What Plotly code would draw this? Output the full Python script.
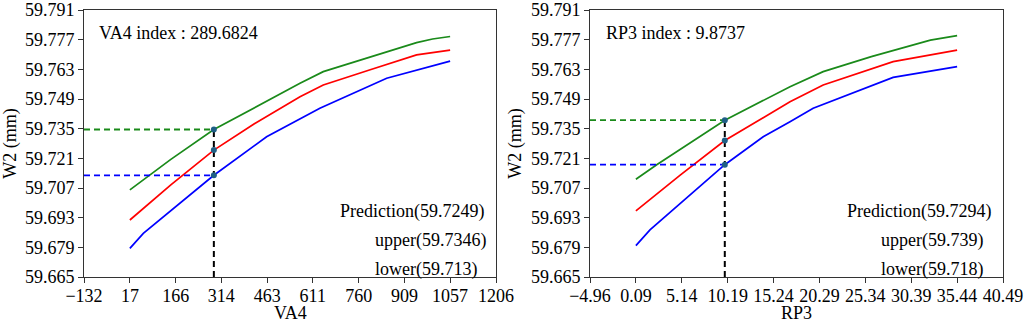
import plotly.graph_objects as go

# ---------------- data ----------------
# Left panel: VA4
va4_green_x = [17, 150, 289.68, 420, 569.5, 645, 800, 948, 1000, 1057]
va4_green_y = [59.7061, 59.7205, 59.7346, 59.7448, 59.7564, 59.7619, 59.7690, 59.7756, 59.7773, 59.7785]
va4_red_x = [17, 150, 289.68, 420, 569.5, 645, 800, 948, 1057]
va4_red_y = [59.6919, 59.7085, 59.7249, 59.7372, 59.7501, 59.7556, 59.7629, 59.7698, 59.7721]
va4_blue_x = [17, 60.6, 289.68, 461, 634, 851, 1057]
va4_blue_y = [59.6785, 59.6856, 59.7130, 59.7312, 59.7446, 59.7588, 59.7669]
va4_index = 289.6824
va4_pred, va4_upper, va4_lower = 59.7249, 59.7346, 59.713
va4_ticks = [-132, 17, 166, 314, 463, 611, 760, 909, 1057, 1206]

# Right panel: RP3
rp3_green_x = [0.09, 2.38, 9.8737, 17.05, 20.7, 26.0, 32.5, 35.44]
rp3_green_y = [59.7111, 59.7180, 59.7390, 59.7548, 59.7619, 59.7690, 59.7768, 59.7789]
rp3_red_x = [0.09, 5.0, 9.8737, 17.05, 20.7, 28.4, 35.44]
rp3_red_y = [59.6962, 59.7132, 59.7294, 59.7477, 59.7556, 59.7666, 59.7721]
rp3_blue_x = [0.09, 1.64, 9.8737, 14.1, 17.05, 19.6, 28.4, 35.44]
rp3_blue_y = [59.6798, 59.6872, 59.7180, 59.7312, 59.7383, 59.7446, 59.7592, 59.7643]
rp3_index = 9.8737
rp3_pred, rp3_upper, rp3_lower = 59.7294, 59.739, 59.718
rp3_ticks = [-4.96, 0.09, 5.14, 10.19, 15.24, 20.29, 25.34, 30.39, 35.44, 40.49]

y_ticks = [59.665, 59.679, 59.693, 59.707, 59.721, 59.735, 59.749, 59.763, 59.777, 59.791]

# ---------------- figure ----------------
W, H = 1024, 324
FONT = "'Liberation Serif', 'Times New Roman', 'DejaVu Serif', serif"
FS = 18
GREEN, RED, BLUE = "#1a8a1a", "#ff0000", "#0000ff"
DOT = "#1f5f86"

fig = go.Figure()

panels = [
    ("x", "y", va4_green_x, va4_green_y, va4_red_x, va4_red_y, va4_blue_x, va4_blue_y,
     va4_index, va4_pred, va4_upper, va4_lower, va4_ticks[0]),
    ("x2", "y2", rp3_green_x, rp3_green_y, rp3_red_x, rp3_red_y, rp3_blue_x, rp3_blue_y,
     rp3_index, rp3_pred, rp3_upper, rp3_lower, rp3_ticks[0]),
]

for (xa, ya, gx, gy, rx, ry, bx, by, idx, pred, up, lo, xmin) in panels:
    fig.add_trace(go.Scatter(x=gx, y=gy, mode="lines", line=dict(color=GREEN, width=1.7),
                             xaxis=xa, yaxis=ya, showlegend=False))
    fig.add_trace(go.Scatter(x=rx, y=ry, mode="lines", line=dict(color=RED, width=1.7),
                             xaxis=xa, yaxis=ya, showlegend=False))
    fig.add_trace(go.Scatter(x=bx, y=by, mode="lines", line=dict(color=BLUE, width=1.7),
                             xaxis=xa, yaxis=ya, showlegend=False))
    # dashed guide lines
    fig.add_trace(go.Scatter(x=[xmin, idx], y=[up, up], mode="lines",
                             line=dict(color=GREEN, width=1.8, dash="6px,4px"),
                             xaxis=xa, yaxis=ya, showlegend=False))
    fig.add_trace(go.Scatter(x=[xmin, idx], y=[lo, lo], mode="lines",
                             line=dict(color=BLUE, width=1.8, dash="6px,4px"),
                             xaxis=xa, yaxis=ya, showlegend=False))
    fig.add_trace(go.Scatter(x=[idx, idx], y=[y_ticks[0], up], mode="lines",
                             line=dict(color="black", width=2, dash="6px,4px"),
                             xaxis=xa, yaxis=ya, showlegend=False))
    fig.add_trace(go.Scatter(x=[idx, idx, idx], y=[up, pred, lo], mode="markers",
                             marker=dict(color=DOT, size=6),
                             xaxis=xa, yaxis=ya, showlegend=False))

def px(x):
    return x / W

def py(y):
    return 1 - y / H

def fmt_minus(s):
    return s.replace("-", "\u2212")

ydom = [py(277), py(10)]
axis_common = dict(showline=True, linecolor="#333333", linewidth=1, mirror=True,
                   ticks="outside", ticklen=5, tickcolor="#333333", showgrid=False,
                   zeroline=False, automargin=False,
                   tickfont=dict(family=FONT, size=FS, color="black"))

fig.update_layout(
    width=W, height=H,
    margin=dict(l=0, r=0, t=0, b=0),
    paper_bgcolor="white", plot_bgcolor="white",
    font=dict(family=FONT, size=FS, color="black"),
    xaxis=dict(domain=[px(84), px(496)], range=[va4_ticks[0], va4_ticks[-1]], anchor="y",
               tickvals=va4_ticks, ticktext=[fmt_minus(str(t)) for t in va4_ticks],
               ticklabelstandoff=-3, **axis_common),
    yaxis=dict(domain=ydom, range=[y_ticks[0], y_ticks[-1]], anchor="x",
               tickvals=y_ticks, ticktext=["%.3f" % t for t in y_ticks],
               title=dict(text="W2 (mm)", font=dict(family=FONT, size=FS), standoff=4), **axis_common),
    xaxis2=dict(domain=[px(590), px(1003)], range=[rp3_ticks[0], rp3_ticks[-1]], anchor="y2",
                tickvals=rp3_ticks, ticktext=[fmt_minus("%.2f" % t) for t in rp3_ticks],
                ticklabelstandoff=-3, **axis_common),
    yaxis2=dict(domain=ydom, range=[y_ticks[0], y_ticks[-1]], anchor="x2",
                tickvals=y_ticks, ticktext=["%.3f" % t for t in y_ticks],
                title=dict(text="W2 (mm)", font=dict(family=FONT, size=FS), standoff=4), **axis_common),
)

def note(text, x, y, anchor="left"):
    fig.add_annotation(text=text, x=px(x), y=py(y), xref="paper", yref="paper",
                       xanchor=anchor, yanchor="middle", showarrow=False,
                       font=dict(family=FONT, size=FS, color="black"))

note("VA4", 290, 313, "center")
note("RP3", 796.5, 313, "center")

note("VA4 index : %.4f" % va4_index, 97, 33)
note("Prediction(%s)" % va4_pred, 338, 211)
note("upper(%s)" % va4_upper, 373, 240)
note("lower(%s)" % va4_lower, 373, 269)

note("RP3 index : %.4f" % rp3_index, 604, 33)
note("Prediction(%s)" % rp3_pred, 845, 211)
note("upper(%s)" % rp3_upper, 879, 240)
note("lower(%s)" % rp3_lower, 879, 269)

fig.write_html("out.html")
